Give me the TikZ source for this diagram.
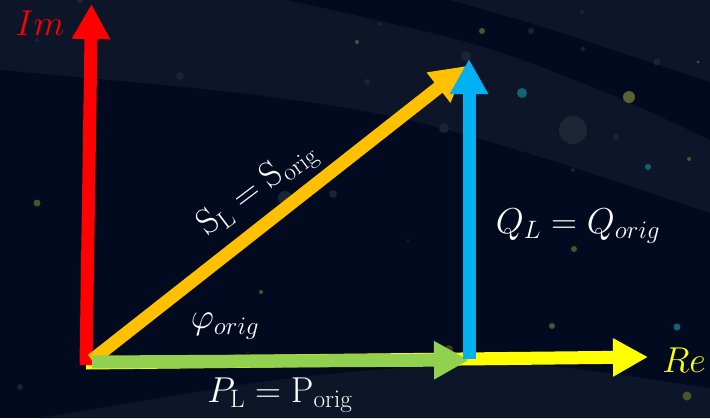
\RequirePackage{fix-cm}
\documentclass[tikz,border=0pt]{standalone}
\usetikzlibrary{arrows.meta}
\definecolor{bgdark}{RGB}{1,10,30}
\definecolor{bglight}{RGB}{13,22,40}
\definecolor{vred}{RGB}{255,0,0}
\definecolor{vorange}{RGB}{255,192,0}
\definecolor{vblue}{RGB}{0,176,240}
\definecolor{vgreen}{RGB}{146,208,80}
\definecolor{vyellow}{RGB}{255,255,0}
\definecolor{starolive}{RGB}{78,82,44}
\definecolor{staroliveb}{RGB}{92,97,52}
\definecolor{stardim}{RGB}{58,58,40}
\definecolor{starteal}{RGB}{16,100,116}
\definecolor{starfaint}{RGB}{28,36,52}
\definecolor{starbig}{RGB}{30,38,54}
\begin{document}
\begin{tikzpicture}[x=1pt,y=-1pt,
  vec/.style={line width=13pt,-{Triangle[width=36pt,length=35pt]}},
  lbl/.style={inner sep=0pt,font=\fontsize{36}{42}\selectfont}]
\useasboundingbox (0,0) rectangle (710,418);
% background
\fill[bgdark] (0,0) rectangle (710,418);
\fill[bglight] (0,0) -- plot[smooth] coordinates {(287,0) (470,43) (600,90) (710,140)}
  -- plot[smooth] coordinates {(710,213) (550,160) (400,118) (240,93) (0,70)} -- cycle;
\fill[bglight] plot[smooth] coordinates {(450,0) (520,20) (583,40) (710,82)} -- (710,0) -- cycle;
\fill[bglight] plot[smooth] coordinates {(40,418) (240,385) (350,372) (470,364) (560,367) (710,388)} -- (710,418) -- cycle;
% stars
\foreach \x/\y/\r in {180/76/4,466/56/5,531/31/3,657/62/3.5,583/49/2,582/12/2,616/137/3,444/128/5,573/170/2,380/24/2,367/82/3,20/387/3,37/40/2,80/0/3,285/198/7,333/194/4,408/240/1.5,248/352/1.5}
  \fill[starfaint] (\x,\y) circle[radius=\r];
\fill[starbig] (573,130) circle[radius=14];
\foreach \x/\y/\r in {37/203/3.5,482/31/3,574/249/3,261/292/2,552/326/3,687/396/4.5,357/42/2,689/159/2}
  \fill[starolive] (\x,\y) circle[radius=\r];
\fill[staroliveb] (629,97) circle[radius=6];
\fill[stardim] (449,349) circle[radius=4];
\foreach \x/\y/\r in {522/93/5,648/167/3,677/327/3.5,698/62/1.5}
  \fill[starteal] (\x,\y) circle[radius=\r];
% vector end points
\coordinate (ImStart) at (86,365);
\coordinate (ImTip) at (91.5,4);
\coordinate (ReStart) at (86,363);
\coordinate (ReTip) at (648,357);
\coordinate (PStart) at (92,362);
\coordinate (PTip) at (469,360);
\coordinate (SStart) at (92,360);
\coordinate (STip) at (466,66);
\coordinate (QStart) at (469,359);
\coordinate (QTip) at (469,59);
% vectors
\draw[vec,vyellow] (ReStart) -- (ReTip);
\draw[vec,vred] (ImStart) -- (ImTip);
\draw[vec,vorange] (SStart) -- (STip);
\draw[vec,vgreen] (PStart) -- (PTip);
\draw[vec,vblue] (QStart) -- (QTip);
% labels
\node[lbl,text=vred] (im) at (40,23) {$Im$};
\node[lbl,text=vyellow] (re) at (684,360) {$Re$};
\node[lbl,text=white] (q) at (578,226) {$Q_L = Q_{orig}$};
\node[lbl,text=white] (phi) at (225,326) {$\varphi_{orig}$};
\node[lbl,text=white] (p) at (280,395) {$P_{\mathrm{L}} = \mathrm{P}_{\mathrm{orig}}$};
\node[lbl,text=white,rotate=37] (s) at (258,190) {$\mathrm{S}_{\mathrm{L}} = \mathrm{S}_{\mathrm{orig}}$};
\end{tikzpicture}
\end{document}
